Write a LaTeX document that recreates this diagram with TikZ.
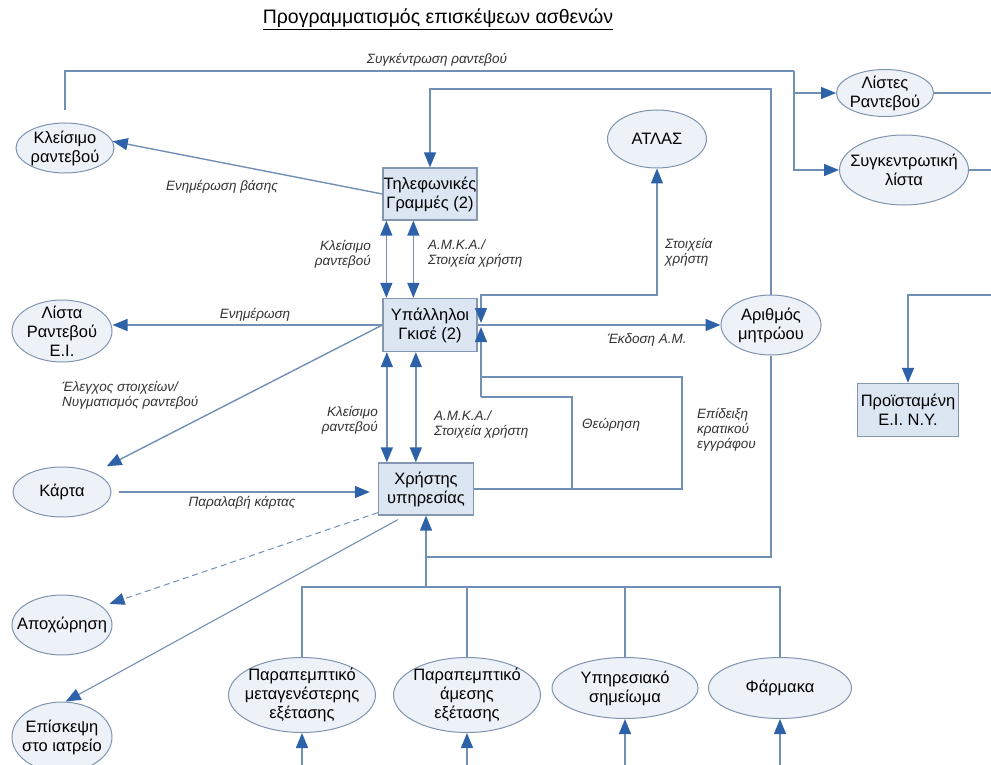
\documentclass[tikz,border=0pt]{standalone}
\usepackage{fontspec}
\setmainfont{Liberation Sans}
\usetikzlibrary{arrows.meta,shapes.geometric,calc}

\definecolor{edgeline}{HTML}{7090B5}
\definecolor{tipblue}{HTML}{2E62A8}
\definecolor{ovalfill}{HTML}{EDF2F9}
\definecolor{ovalline}{HTML}{7F93AE}
\definecolor{boxfill}{HTML}{DCE6F2}
\definecolor{boxline}{HTML}{8497B0}
\definecolor{labeltext}{HTML}{333333}

\tikzset{
  x=1pt, y=-1pt,
  nodetext/.style={font=\fontsize{16.5}{19}\selectfont, text=black},
  oval/.style={ellipse, draw=ovalline, fill=ovalfill, line width=1pt,
    inner xsep=-12pt, inner ysep=-6pt, align=center, nodetext},
  procbox/.style={rectangle, draw=boxline, fill=boxfill, line width=1.3pt,
    inner sep=0pt, align=center, nodetext},
  flow/.style={draw=edgeline, line width=1.4pt},
  tipend/.style={-{Triangle[length=15pt,width=12pt,color=tipblue]}},
  tipboth/.style={{Triangle[length=15pt,width=12pt,color=tipblue]}-{Triangle[length=15pt,width=12pt,color=tipblue]}},
  lbl/.style={font=\fontsize{13.5}{15}\selectfont\itshape, text=labeltext, inner sep=0pt},
}

\begin{document}
\begin{tikzpicture}
\useasboundingbox (0,0) rectangle (991,765);
\clip (0,0) rectangle (991,765);

% title
\node[font=\fontsize{19.5}{23}\selectfont, inner sep=0pt] (title) at (438,19)
  {\underline{Προγραμματισμός επισκέψεων ασθενών}};

% left column
\node[oval, minimum width=98, minimum height=50] (kleisimo) at (65,148) {Κλείσιμο\\ραντεβού};
\node[oval, minimum width=100, minimum height=62] (lista) at (62,331) {Λίστα\\Ραντεβού\\Ε.Ι.};
\node[oval, minimum width=98, minimum height=50] (karta) at (62,492) {Κάρτα};
\node[oval, minimum width=100, minimum height=60] (apox) at (62,625) {Αποχώρηση};
\node[oval, minimum width=100, minimum height=70] (episk) at (62,737) {Επίσκεψη\\στο ιατρείο};

% central column
\node[procbox, minimum width=94, minimum height=52] (tilef) at (430,194) {Τηλεφωνικές\\Γραμμές (2)};
\node[procbox, minimum width=94, minimum height=53] (ypal) at (430,325) {Υπάλληλοι\\Γκισέ (2)};
\node[procbox, minimum width=95, minimum height=52] (xrist) at (426,489) {Χρήστης\\υπηρεσίας};

% right part
\node[oval, minimum width=99, minimum height=58] (atlas) at (657,139) {ΑΤΛΑΣ};
\node[oval, minimum width=100, minimum height=60] (arith) at (771,325) {Αριθμός\\μητρώου};
\node[oval, minimum width=97, minimum height=47] (listes) at (885,93) {Λίστες\\Ραντεβού};
\node[oval, minimum width=129, minimum height=70] (sygk) at (904,170) {Συγκεντρωτική\\λίστα};
\node[procbox, minimum width=101, minimum height=53] (proist) at (908,410) {Προϊσταμένη\\Ε.Ι. Ν.Υ.};

% bottom row
\node[oval, minimum width=147, minimum height=75] (parap1) at (302,695) {Παραπεμπτικό\\μεταγενέστερης\\εξέτασης};
\node[oval, minimum width=147, minimum height=75] (parap2) at (467,695) {Παραπεμπτικό\\άμεσης\\εξέτασης};
\node[oval, minimum width=146, minimum height=61] (yphr) at (625,688) {Υπηρεσιακό\\σημείωμα};
\node[oval, minimum width=143, minimum height=61] (farm) at (780,688) {Φάρμακα};

% junction points
\coordinate (jtop) at (794,71);
\coordinate (jlist) at (794,93);
\coordinate (jarith) at (771,89);
\coordinate (pA) at (481,325);
\coordinate (jatlas) at (481,295);
\coordinate (jepid) at (682,377);
\coordinate (jtheo) at (572,397);
\coordinate (jB) at (771,557);
\coordinate (jT) at (426,587);
\coordinate (redge) at (1000,0);
\coordinate (rproist) at (1000,295);
\coordinate (bot) at (0,775);

% gathering of appointments
\draw[flow] ([yshift=12pt]kleisimo.north) |- (jtop);
\draw[flow, tipend] (jtop) |- (sygk.west);
\draw[flow, tipend] (jlist) -- (listes.west);
\node[lbl] (lsygk) at (437,60) {Συγκέντρωση ραντεβού};

% outgoing lines on the right
\draw[flow] (listes.east) -- (listes.east -| redge);
\draw[flow] (sygk.east) -- (sygk.east -| redge);
\draw[flow, tipend] (rproist) -| (proist.north);

% phone lines
\draw[flow, tipend] (tilef.west) -- (kleisimo.8);
\node[lbl] (lbasis) at (222,187) {Ενημέρωση βάσης};
\draw[flow, tipend] (arith.north) -- (jarith) -| (tilef.north);

\draw[flow, tipboth] ([xshift=4pt]tilef.south west) -- ([xshift=4pt]tilef.south west |- ypal.north);
\draw[flow, tipboth] ([xshift=31pt]tilef.south west) -- ([xshift=31pt]tilef.south west |- ypal.north);
\node[lbl, align=right, anchor=east] (lk1) at (371,254) {Κλείσιμο\\ραντεβού};
\node[lbl, align=left, anchor=west] (la1) at (428,254) {Α.Μ.Κ.Α./\\Στοιχεία χρήστη};

% desk staff
\draw[flow, tipend] (ypal.west) -- (ypal.west -| lista.east);
\node[lbl] (lenim) at (255,315) {Ενημέρωση};
\draw[flow, tipend, shorten >=14pt] (ypal.west) -- (karta.31);
\node[lbl, align=left, anchor=west] (lelen) at (62,395) {Έλεγχος στοιχείων/\\Νυγματισμός ραντεβού};

\draw[flow, tipboth] ([xshift=9pt]xrist.north west |- ypal.south) -- ([xshift=9pt]xrist.north west);
\draw[flow, tipboth] ([xshift=38pt]xrist.north west |- ypal.south) -- ([xshift=38pt]xrist.north west);
\node[lbl, align=right, anchor=east] (lk2) at (378,420) {Κλείσιμο\\ραντεβού};
\node[lbl, align=left, anchor=west] (la2) at (434,425) {Α.Μ.Κ.Α./\\Στοιχεία χρήστη};

% ATLAS and registry number
\draw[flow, tipboth] ([yshift=2pt]pA) -- (jatlas) -| (atlas.south);
\node[lbl, align=left, anchor=west] (lstx) at (665,252) {Στοιχεία\\χρήστη};
\draw[flow, tipend] (ypal.east) -- (arith.west);
\node[lbl] (lekd) at (647,340) {Έκδοση Α.Μ.};

% validation and id check loops
\draw[flow] (xrist.east) -| (jepid) -- (jepid -| pA);
\draw[flow] (xrist.east -| jtheo) -- (jtheo) -- (jtheo -| pA);
\draw[flow, tipend] (jtheo -| pA) -- ([yshift=-2pt]pA);
\node[lbl, anchor=west] (ltheo) at (582,425) {Θεώρηση};
\node[lbl, align=left, anchor=west] (lepid) at (697,430) {Επίδειξη\\κρατικού\\εγγράφου};

% card
\draw[flow, tipend, shorten <=7pt, shorten >=8pt] (karta.east) -- (karta.east -| xrist.west);
\node[lbl] (lpar) at (242,503) {Παραλαβή κάρτας};

% leaving / visit
\draw[flow, tipend, dash pattern=on 6pt off 4pt, line width=1pt, shorten >=8pt] ([yshift=3pt]xrist.south west) -- (apox.25);
\draw[flow, tipend, line width=1.1pt] ([xshift=20pt,yshift=-4pt]xrist.south west) -- (episk.84);

% documents feeding the service user
\draw[flow] (arith.south) -- (jB) -- (jB -| jT);
\draw[flow] (parap1.north) |- (farm.north |- jT) -- (farm.north);
\draw[flow] (parap2.north) -- (parap2.north |- jT);
\draw[flow] (yphr.north) -- (yphr.north |- jT);
\draw[flow, tipend] (jT) -- (xrist.south);

\draw[flow, tipend] (parap1.south |- bot) -- (parap1.south);
\draw[flow, tipend] (parap2.south |- bot) -- (parap2.south);
\draw[flow, tipend] (yphr.south |- bot) -- (yphr.south);
\draw[flow, tipend] (farm.south |- bot) -- (farm.south);
\end{tikzpicture}
\end{document}
